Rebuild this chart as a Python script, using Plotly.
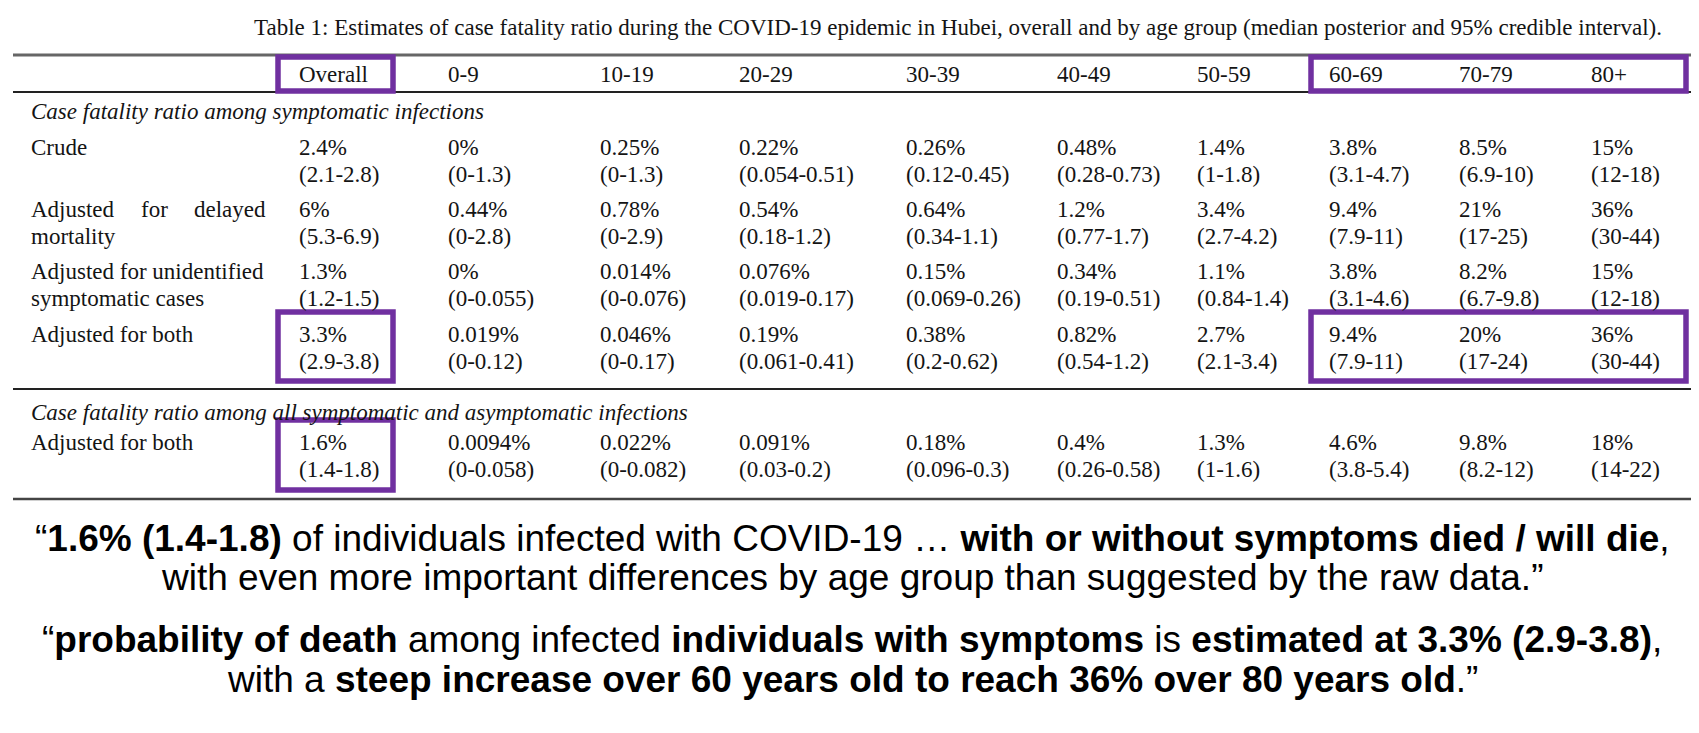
import plotly.graph_objects as go

# ---------------- data ----------------
title_text = ("Table 1: Estimates of case fatality ratio during the COVID-19 epidemic in Hubei, "
              "overall and by age group (median posterior and 95% credible interval).")
columns = ["Overall", "0-9", "10-19", "20-29", "30-39", "40-49", "50-59", "60-69", "70-79", "80+"]

section1 = "Case fatality ratio among symptomatic infections"
section2 = "Case fatality ratio among all symptomatic and asymptomatic infections"

crude_med = ["2.4%", "0%", "0.25%", "0.22%", "0.26%", "0.48%", "1.4%", "3.8%", "8.5%", "15%"]
crude_ci = ["(2.1-2.8)", "(0-1.3)", "(0-1.3)", "(0.054-0.51)", "(0.12-0.45)", "(0.28-0.73)",
            "(1-1.8)", "(3.1-4.7)", "(6.9-10)", "(12-18)"]
delayed_med = ["6%", "0.44%", "0.78%", "0.54%", "0.64%", "1.2%", "3.4%", "9.4%", "21%", "36%"]
delayed_ci = ["(5.3-6.9)", "(0-2.8)", "(0-2.9)", "(0.18-1.2)", "(0.34-1.1)", "(0.77-1.7)",
              "(2.7-4.2)", "(7.9-11)", "(17-25)", "(30-44)"]
unident_med = ["1.3%", "0%", "0.014%", "0.076%", "0.15%", "0.34%", "1.1%", "3.8%", "8.2%", "15%"]
unident_ci = ["(1.2-1.5)", "(0-0.055)", "(0-0.076)", "(0.019-0.17)", "(0.069-0.26)", "(0.19-0.51)",
              "(0.84-1.4)", "(3.1-4.6)", "(6.7-9.8)", "(12-18)"]
both_med = ["3.3%", "0.019%", "0.046%", "0.19%", "0.38%", "0.82%", "2.7%", "9.4%", "20%", "36%"]
both_ci = ["(2.9-3.8)", "(0-0.12)", "(0-0.17)", "(0.061-0.41)", "(0.2-0.62)", "(0.54-1.2)",
           "(2.1-3.4)", "(7.9-11)", "(17-24)", "(30-44)"]
all_med = ["1.6%", "0.0094%", "0.022%", "0.091%", "0.18%", "0.4%", "1.3%", "4.6%", "9.8%", "18%"]
all_ci = ["(1.4-1.8)", "(0-0.058)", "(0-0.082)", "(0.03-0.2)", "(0.096-0.3)", "(0.26-0.58)",
          "(1-1.6)", "(3.8-5.4)", "(8.2-12)", "(14-22)"]

quotes = [
    "“<b>1.6% (1.4-1.8)</b> of individuals infected with COVID-19 … <b>with or without symptoms died / will die</b>,",
    "with even more important differences by age group than suggested by the raw data.”",
    "“<b>probability of death</b> among infected <b>individuals with symptoms</b> is <b>estimated at 3.3% (2.9-3.8)</b>,",
    "with a <b>steep increase over 60 years old to reach 36% over 80 years old</b>.”",
]

# ---------------- layout constants ----------------
W, H = 1699, 733
OFF = 8  # default page body margin, compensated so coordinates are window pixels
SERIF = "Liberation Serif, Times New Roman, serif"
SANS = "Liberation Sans, Arial, sans-serif"
TXT = "#141414"
PURPLE = "#7030A0"
FS = 23
LINE = 27

col_x = [297, 446, 598, 737, 904, 1055, 1195, 1327, 1457, 1589]
label_x = 29

ann = []
shapes = []


def text(x, y, s, size=FS, font=SERIF, anchor="left", color=TXT):
    ann.append(dict(x=x, y=y, xref="x", yref="y", text=s, showarrow=False,
                    xanchor=anchor, yanchor="middle",
                    font=dict(family=font, size=size, color=color)))


def hline(y, x0=13, x1=W, width=1.6, color="#333333"):
    shapes.append(dict(type="line", xref="x", yref="y", x0=x0, x1=x1, y0=y, y1=y,
                       line=dict(color=color, width=width)))


def box(x0, x1, y0, y1):
    shapes.append(dict(type="rect", xref="x", yref="y", x0=x0, x1=x1, y0=y0, y1=y1,
                       line=dict(color=PURPLE, width=5.5), fillcolor="rgba(0,0,0,0)"))


# title
text(958, 27, title_text, size=FS, anchor="center")

# rules
hline(55, width=2.8, color="#666666")
hline(92, width=1.8, color="#222222")
hline(389, width=1.8, color="#222222")
hline(499, width=2.4, color="#444444")

# header
for cx, c in zip(col_x, columns):
    text(cx, 74, c)

# section headers
text(label_x, 111, "<i>" + section1 + "</i>")
text(label_x, 412, "<i>" + section2 + "</i>")

rows = [
    (["Crude", ""], crude_med, crude_ci, 147),
    ([None, "mortality"], delayed_med, delayed_ci, 209),
    (["Adjusted for unidentified", "symptomatic cases"], unident_med, unident_ci, 271),
    (["Adjusted for both", ""], both_med, both_ci, 334),
    (["Adjusted for both", ""], all_med, all_ci, 442),
]
for labels, med, ci, y in rows:
    if labels[0] is None:
        text(label_x, y, "Adjusted")
        text(154, y, "for", anchor="center")
        text(268, y, "delayed", anchor="right")
    elif labels[0]:
        text(label_x, y, labels[0])
    if labels[1]:
        text(label_x, y + LINE, labels[1])
    for cx, m, c in zip(col_x, med, ci):
        text(cx, y, m)
        text(cx, y + LINE, c)

# highlight boxes
box(278, 393, 57, 91)
box(1311, 1686, 57, 91)
box(278, 393, 312, 381)
box(1311, 1686, 312, 381)
box(278, 393, 420, 490)

# quotes
for q, y in zip(quotes, [538, 577, 639, 679]):
    text(852, y, q, size=37, font=SANS, anchor="center", color="#000000")

fig = go.Figure()
fig.update_layout(
    width=W - 2 * OFF, height=H - 2 * OFF, autosize=False,
    margin=dict(l=0, r=0, t=0, b=0),
    paper_bgcolor="white", plot_bgcolor="white",
    xaxis=dict(range=[OFF, W - OFF], visible=False, fixedrange=True),
    yaxis=dict(range=[H - OFF, OFF], visible=False, fixedrange=True),
    annotations=ann, shapes=shapes, showlegend=False,
)
fig.write_html("out.html", config={"displayModeBar": False})
